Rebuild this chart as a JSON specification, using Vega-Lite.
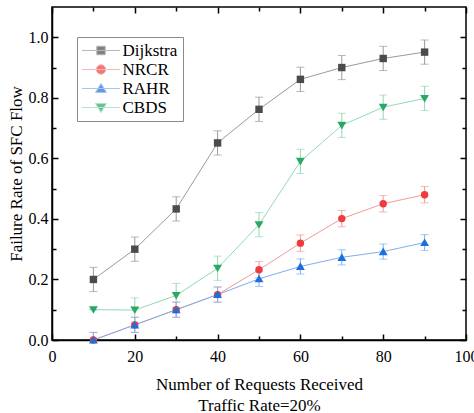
{
  "$schema": "https://vega.github.io/schema/vega-lite/v6.json",
  "width": 414,
  "height": 333,
  "autosize": "none",
  "padding": {"left": 52, "top": 7, "right": 8, "bottom": 73},
  "background": "white",
  "config": {
    "font": "Liberation Serif",
    "view": {"stroke": "black", "strokeWidth": 1.5},
    "axis": {"grid": false, "domainColor": "black", "domainWidth": 1.5, "tickColor": "black", "tickWidth": 1.5, "labelColor": "black", "titleColor": "black", "labelFont": "Liberation Serif", "titleFont": "Liberation Serif", "labelFontSize": 16, "titleFontSize": 17, "titleFontWeight": "normal"}
  },
  "data": {"values": [
    {"x": 10, "series": "Dijkstra", "y": 0.20, "lo": 0.16, "hi": 0.24},
    {"x": 20, "series": "Dijkstra", "y": 0.30, "lo": 0.26, "hi": 0.34},
    {"x": 30, "series": "Dijkstra", "y": 0.433, "lo": 0.393, "hi": 0.473},
    {"x": 40, "series": "Dijkstra", "y": 0.651, "lo": 0.611, "hi": 0.691},
    {"x": 50, "series": "Dijkstra", "y": 0.762, "lo": 0.722, "hi": 0.802},
    {"x": 60, "series": "Dijkstra", "y": 0.861, "lo": 0.821, "hi": 0.901},
    {"x": 70, "series": "Dijkstra", "y": 0.90, "lo": 0.86, "hi": 0.94},
    {"x": 80, "series": "Dijkstra", "y": 0.93, "lo": 0.89, "hi": 0.97},
    {"x": 90, "series": "Dijkstra", "y": 0.951, "lo": 0.911, "hi": 0.991},
    {"x": 10, "series": "NRCR", "y": 0.0, "lo": -0.025, "hi": 0.025},
    {"x": 20, "series": "NRCR", "y": 0.05, "lo": 0.025, "hi": 0.075},
    {"x": 30, "series": "NRCR", "y": 0.10, "lo": 0.075, "hi": 0.125},
    {"x": 40, "series": "NRCR", "y": 0.15, "lo": 0.125, "hi": 0.175},
    {"x": 50, "series": "NRCR", "y": 0.232, "lo": 0.205, "hi": 0.259},
    {"x": 60, "series": "NRCR", "y": 0.32, "lo": 0.293, "hi": 0.347},
    {"x": 70, "series": "NRCR", "y": 0.401, "lo": 0.374, "hi": 0.428},
    {"x": 80, "series": "NRCR", "y": 0.45, "lo": 0.423, "hi": 0.477},
    {"x": 90, "series": "NRCR", "y": 0.48, "lo": 0.453, "hi": 0.507},
    {"x": 10, "series": "RAHR", "y": 0.0, "lo": -0.025, "hi": 0.025},
    {"x": 20, "series": "RAHR", "y": 0.05, "lo": 0.025, "hi": 0.075},
    {"x": 30, "series": "RAHR", "y": 0.10, "lo": 0.075, "hi": 0.125},
    {"x": 40, "series": "RAHR", "y": 0.15, "lo": 0.125, "hi": 0.175},
    {"x": 50, "series": "RAHR", "y": 0.202, "lo": 0.177, "hi": 0.227},
    {"x": 60, "series": "RAHR", "y": 0.243, "lo": 0.218, "hi": 0.268},
    {"x": 70, "series": "RAHR", "y": 0.273, "lo": 0.248, "hi": 0.298},
    {"x": 80, "series": "RAHR", "y": 0.292, "lo": 0.267, "hi": 0.317},
    {"x": 90, "series": "RAHR", "y": 0.322, "lo": 0.296, "hi": 0.348},
    {"x": 10, "series": "CBDS", "y": 0.10, "lo": 0.10, "hi": 0.10},
    {"x": 20, "series": "CBDS", "y": 0.099, "lo": 0.059, "hi": 0.139},
    {"x": 30, "series": "CBDS", "y": 0.147, "lo": 0.107, "hi": 0.187},
    {"x": 40, "series": "CBDS", "y": 0.237, "lo": 0.197, "hi": 0.277},
    {"x": 50, "series": "CBDS", "y": 0.381, "lo": 0.341, "hi": 0.421},
    {"x": 60, "series": "CBDS", "y": 0.59, "lo": 0.55, "hi": 0.63},
    {"x": 70, "series": "CBDS", "y": 0.709, "lo": 0.669, "hi": 0.749},
    {"x": 80, "series": "CBDS", "y": 0.769, "lo": 0.729, "hi": 0.809},
    {"x": 90, "series": "CBDS", "y": 0.798, "lo": 0.758, "hi": 0.838}
  ]},
  "resolve": {"axis": {"x": "independent", "y": "independent"}},
  "layer": [
    {
      "mark": {"type": "line", "strokeWidth": 1, "clip": true},
      "encoding": {
        "x": {"field": "x", "type": "quantitative", "scale": {"domain": [0, 100], "nice": false},
          "axis": {"orient": "bottom", "values": [0,10,20,30,40,50,60,70,80,90,100], "labelExpr": "datum.value % 20 === 0 ? datum.label : ''", "labelFlush": false, "labelOverlap": false, "tickSize": {"condition": {"test": "datum.value % 20 === 0", "value": -6}, "value": -4}, "labelPadding": 14, "title": ["Number of Requests Received", "Traffic Rate=20%"], "titlePadding": 10, "titleLineHeight": 21}},
        "y": {"field": "y", "type": "quantitative", "scale": {"domain": [0, 1.1], "nice": false},
          "axis": {"orient": "left", "values": [0,0.1,0.2,0.3,0.4,0.5,0.6,0.7,0.8,0.9,1.0], "format": ".1f", "labelExpr": "round(datum.value*10) % 2 === 0 ? datum.label : ''", "labelOverlap": false, "labelFlush": false, "tickSize": {"condition": {"test": "round(datum.value*10) % 2 === 0", "value": -6}, "value": -4}, "labelPadding": 10, "title": "Failure Rate of SFC Flow", "titlePadding": 3}},
        "detail": {"field": "series"},
        "stroke": {"field": "series", "type": "nominal",
          "scale": {"domain": ["Dijkstra", "NRCR", "RAHR", "CBDS"], "range": ["#9a9a9a", "#f29a9a", "#7eb0e8", "#94d8b6"]},
          "legend": {
            "orient": "none", "legendX": 25, "legendY": 30, "title": null,
            "strokeColor": "#8a8a8a", "padding": 5, "fillColor": "white",
            "labelFont": "Liberation Serif", "labelFontSize": 17, "labelColor": "black",
            "symbolSize": 100, "symbolStrokeWidth": 1, "symbolOpacity": 1, "symbolOffset": 10.5, "labelOffset": 13, "rowPadding": 1
          }
        }
      }
    },
    {
      "mark": {"type": "rule", "strokeWidth": 1, "clip": true},
      "encoding": {
        "x": {"field": "x", "type": "quantitative", "axis": {"orient": "top", "values": [0,10,20,30,40,50,60,70,80,90,100], "labels": false, "title": null, "domain": false, "tickSize": {"condition": {"test": "datum.value % 20 === 0", "value": -6}, "value": -4}}},
        "y": {"field": "lo", "type": "quantitative", "axis": {"orient": "right", "values": [0,0.1,0.2,0.3,0.4,0.5,0.6,0.7,0.8,0.9,1.0], "labels": false, "title": null, "domain": false, "tickSize": {"condition": {"test": "round(datum.value*10) % 2 === 0", "value": -6}, "value": -4}}},
        "y2": {"field": "hi"},
        "stroke": {"field": "series", "type": "nominal"}
      }
    },
    {
      "mark": {"type": "point", "shape": "M-1,0H1", "size": 64, "filled": false, "strokeWidth": 1, "clip": true},
      "encoding": {
        "x": {"field": "x", "type": "quantitative", "axis": null},
        "y": {"field": "lo", "type": "quantitative", "axis": null},
        "stroke": {"field": "series", "type": "nominal"}
      }
    },
    {
      "mark": {"type": "point", "shape": "M-1,0H1", "size": 64, "filled": false, "strokeWidth": 1, "clip": true},
      "encoding": {
        "x": {"field": "x", "type": "quantitative", "axis": null},
        "y": {"field": "hi", "type": "quantitative", "axis": null},
        "stroke": {"field": "series", "type": "nominal"}
      }
    },
    {
      "transform": [{"filter": "datum.series === 'Dijkstra'"}],
      "mark": {"type": "point", "filled": true, "size": 55, "opacity": 1, "shape": "square"},
      "encoding": {
        "x": {"field": "x", "type": "quantitative", "axis": null},
        "y": {"field": "y", "type": "quantitative", "axis": null},
        "fill": {"field": "series", "type": "nominal", "scale": {"domain": ["Dijkstra", "NRCR", "RAHR", "CBDS"], "range": ["#4b4b4b", "#ef3b3b", "#1d6fe0", "#2ba866"]}}
      }
    },
    {
      "transform": [{"filter": "datum.series === 'NRCR'"}],
      "mark": {"type": "point", "filled": true, "size": 55, "opacity": 1, "shape": "circle"},
      "encoding": {
        "x": {"field": "x", "type": "quantitative", "axis": null},
        "y": {"field": "y", "type": "quantitative", "axis": null},
        "fill": {"field": "series", "type": "nominal"}
      }
    },
    {
      "transform": [{"filter": "datum.series === 'RAHR'"}],
      "mark": {"type": "point", "filled": true, "size": 55, "opacity": 1, "shape": "M0,-1.1L1.2,0.95L-1.2,0.95Z"},
      "encoding": {
        "x": {"field": "x", "type": "quantitative", "axis": null},
        "y": {"field": "y", "type": "quantitative", "axis": null},
        "fill": {"field": "series", "type": "nominal"}
      }
    },
    {
      "transform": [{"filter": "datum.series === 'CBDS'"}],
      "mark": {"type": "point", "filled": true, "size": 55, "opacity": 1, "shape": "M0,1.1L1.2,-0.95L-1.2,-0.95Z"},
      "encoding": {
        "x": {"field": "x", "type": "quantitative", "axis": null},
        "y": {"field": "y", "type": "quantitative", "axis": null},
        "fill": {"field": "series", "type": "nominal"}
      }
    },
    {
      "mark": {"type": "point", "filled": true, "size": 55, "opacity": 0, "strokeWidth": 1},
      "encoding": {
        "x": {"field": "x", "type": "quantitative", "axis": null},
        "y": {"field": "y", "type": "quantitative", "axis": null},
        "fill": {"field": "series", "type": "nominal"},
        "stroke": {"field": "series", "type": "nominal"},
        "shape": {"field": "series", "type": "nominal", "scale": {"domain": ["Dijkstra", "NRCR", "RAHR", "CBDS"], "range": ["M-3.8,0H3.8M-0.85,-0.85H0.85V0.85H-0.85Z", "M-3.8,0H3.8M0.95,0A0.95,0.95 0 1,1 -0.95,0A0.95,0.95 0 1,1 0.95,0Z", "M-3.8,0H3.8M0,-1.0L1.1,0.8L-1.1,0.8Z", "M-3.8,0H3.8M0,1.0L1.1,-0.8L-1.1,-0.8Z"]}}
      }
    }
  ]
}
